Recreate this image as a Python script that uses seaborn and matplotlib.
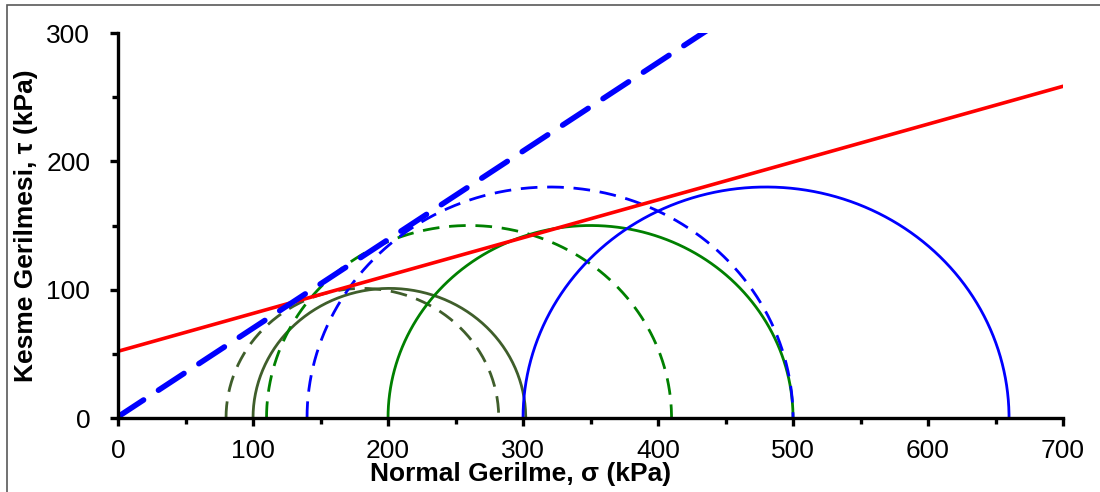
import numpy as np
import pandas as pd
import matplotlib
matplotlib.use("Agg")
import matplotlib.pyplot as plt
import matplotlib.patches as mpatches
from matplotlib.ticker import MultipleLocator
import seaborn as sns

# Mohr circles: minor / major principal stress (kPa)
sigma3 = [100, 80, 200, 110, 300, 140]
sigma1 = [302, 282, 500, 410, 660, 500]
circle_colors = ["#3F5E2B", "#3F5E2B", "#008000", "#008000", "#0000FF", "#0000FF"]
circle_dashed = [False, True, False, True, False, True]

# failure envelopes: tau = c + tan(phi) * sigma
env_c = [52, 1]
env_tan = [0.295, 0.69]
env_colors = ["#FF0000", "#0000FF"]

sns.set_style("ticks", {"text.color": "black", "axes.labelcolor": "black",
                        "xtick.color": "black", "ytick.color": "black"})
plt.rcParams["font.family"] = ["Liberation Sans", "DejaVu Sans"]

fig = plt.figure(figsize=(11, 4.92), dpi=100)
ax = fig.add_axes([0.1073, 0.1504, 0.8591, 0.7825])

theta = np.linspace(0, np.pi, 200)
for s3, s1, col, dashed in zip(sigma3, sigma1, circle_colors, circle_dashed):
    c = (s1 + s3) / 2
    r = (s1 - s3) / 2
    df = pd.DataFrame({"sigma": c - r * np.cos(theta), "tau": r * np.sin(theta)})
    line = sns.lineplot(data=df, x="sigma", y="tau", ax=ax, color=col, lw=2.0,
                        sort=False, estimator=None)
    if dashed:
        line.lines[-1].set_dashes((6, 3.5))

xs = np.array([0, 700])
for c, t, col in zip(env_c, env_tan, env_colors):
    df = pd.DataFrame({"sigma": xs, "tau": c + t * xs})
    sns.lineplot(data=df, x="sigma", y="tau", ax=ax, color=col,
                 lw=2.6 if col == "#FF0000" else 4.0, estimator=None)
    if col == "#0000FF":
        ln = ax.lines[-1]
        ln.set_dashes((5.5, 3.2))
        ln.set_dash_capstyle("round")

ax.set_xlim(0, 700)
ax.set_ylim(0, 300)
ax.xaxis.set_major_locator(MultipleLocator(100))
ax.xaxis.set_minor_locator(MultipleLocator(50))
ax.yaxis.set_major_locator(MultipleLocator(100))
ax.yaxis.set_minor_locator(MultipleLocator(50))
sns.despine(ax=ax)
for sp in ["left", "bottom"]:
    ax.spines[sp].set_linewidth(2.4)
    ax.spines[sp].set_color("black")
ax.tick_params(which="major", length=6, width=2.4, labelsize=19, pad=9, colors="black")
ax.tick_params(which="minor", length=4, width=2.4, colors="black")
ax.tick_params(axis="y", which="major", pad=14)

ax.set_xlabel("Normal Gerilme, σ (kPa)", fontsize=19, fontweight="bold", color="black")
ax.set_ylabel("Kesme Gerilmesi, τ (kPa)", fontsize=19, fontweight="bold", color="black")
ax.xaxis.set_label_coords(0.426, -0.115)
ax.yaxis.set_label_coords(-0.085, 0.5)

fig.patches.append(mpatches.Rectangle((0.0064, -0.1), 1.2, 1.0898, transform=fig.transFigure,
                                      fill=False, edgecolor="#595959", lw=1.2))

fig.savefig("out.png", dpi=100)
